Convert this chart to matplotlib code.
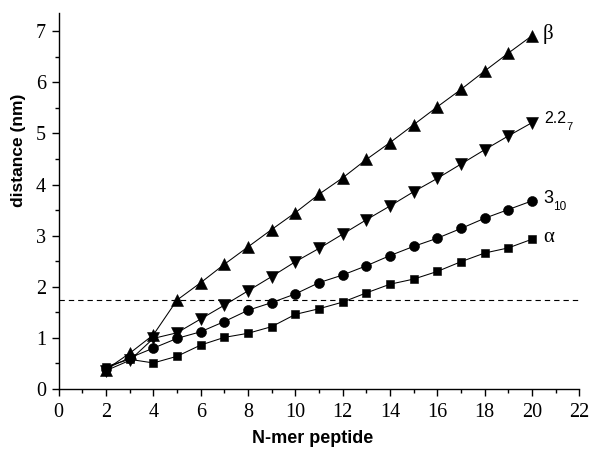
import numpy as np
import matplotlib
matplotlib.use("Agg")
import matplotlib.pyplot as plt
from matplotlib.ticker import MultipleLocator

# peptide length (number of residues)
n_mer = list(range(2, 21))

# end-to-end distance (nm) for each backbone conformation
beta = [0.38, 0.70, 1.06, 1.74, 2.08, 2.44, 2.78, 3.12, 3.45, 3.81, 4.13,
        4.49, 4.82, 5.17, 5.52, 5.86, 6.22, 6.57, 6.91]
helix_227 = [0.36, 0.56, 0.99, 1.10, 1.37, 1.64, 1.92, 2.20, 2.49, 2.75, 3.03,
             3.31, 3.58, 3.86, 4.12, 4.40, 4.68, 4.95, 5.21]
helix_310 = [0.40, 0.61, 0.80, 0.99, 1.12, 1.32, 1.54, 1.69, 1.86, 2.08, 2.23,
             2.41, 2.61, 2.79, 2.95, 3.14, 3.34, 3.51, 3.68]
alpha = [0.44, 0.58, 0.51, 0.64, 0.86, 1.01, 1.09, 1.22, 1.46, 1.57, 1.70,
         1.88, 2.05, 2.15, 2.30, 2.49, 2.66, 2.76, 2.93]

cutoff = 1.74  # horizontal reference distance (nm)

fig = plt.figure(figsize=(5.92, 4.66), dpi=100)
ax = fig.add_axes([0.0992, 0.1652, 0.8794, 0.8075])

line_kw = dict(color='black', linewidth=0.75, markeredgecolor='black',
               markeredgewidth=0.4)
ax.plot(n_mer, beta, marker='^', markersize=8.2, **line_kw)
ax.plot(n_mer, helix_227, marker='v', markersize=8.2, **line_kw)
ax.plot(n_mer, helix_310, marker='o', markersize=7.2, **line_kw)
ax.plot(n_mer, alpha, marker='s', markersize=6.4, **line_kw)

ax.axhline(cutoff, color='black', linewidth=0.8, dashes=(4.8, 3.6))

serif = 'Liberation Serif'
sans = 'Liberation Sans'


def end_label(y_end, text, dx, dy, size, family):
    ax.annotate(text, (n_mer[-1], y_end), xytext=(dx, dy),
                textcoords='offset points', va='center', ha='left',
                fontsize=size, family=family)


# series labels next to the last point (subscripts drawn as separate text)
end_label(beta[-1], 'β', 8, 1, 15, serif)
end_label(helix_227[-1], '2.2', 9, 3, 11.5, sans)
end_label(helix_227[-1], '7', 25, -3, 8, sans)
end_label(helix_310[-1], '3', 8, 2, 13, sans)
end_label(helix_310[-1], '10', 15.5, -4.5, 8.5, sans)
end_label(alpha[-1], 'α', 8, 1, 15, serif)

ax.set_xlim(0, 22)
ax.set_ylim(0, 7.36)
ax.xaxis.set_major_locator(MultipleLocator(2))
ax.xaxis.set_minor_locator(MultipleLocator(1))
ax.yaxis.set_major_locator(MultipleLocator(1))
ax.yaxis.set_minor_locator(MultipleLocator(0.5))

for side in ['top', 'right']:
    ax.spines[side].set_visible(False)
for side in ['left', 'bottom']:
    ax.spines[side].set_linewidth(1.0)

ax.tick_params(which='major', direction='out', length=5.2, width=1.0, pad=4)
ax.tick_params(which='minor', direction='out', length=3, width=1.0)
ax.tick_params(axis='x', pad=5)
for lab in ax.get_xticklabels() + ax.get_yticklabels():
    lab.set_fontfamily(serif)
    lab.set_fontsize(14.5)

ax.set_xlabel('N-mer peptide', fontsize=13, fontweight='bold', family=sans)
ax.set_ylabel('distance (nm)', fontsize=12.5, fontweight='bold', family=sans)
ax.xaxis.label.set_verticalalignment('center')
ax.yaxis.label.set_verticalalignment('center')
ax.xaxis.set_label_coords(0.487, -0.132)
ax.yaxis.set_label_coords(-0.078, 0.635)

fig.savefig('out.png', dpi=100)
